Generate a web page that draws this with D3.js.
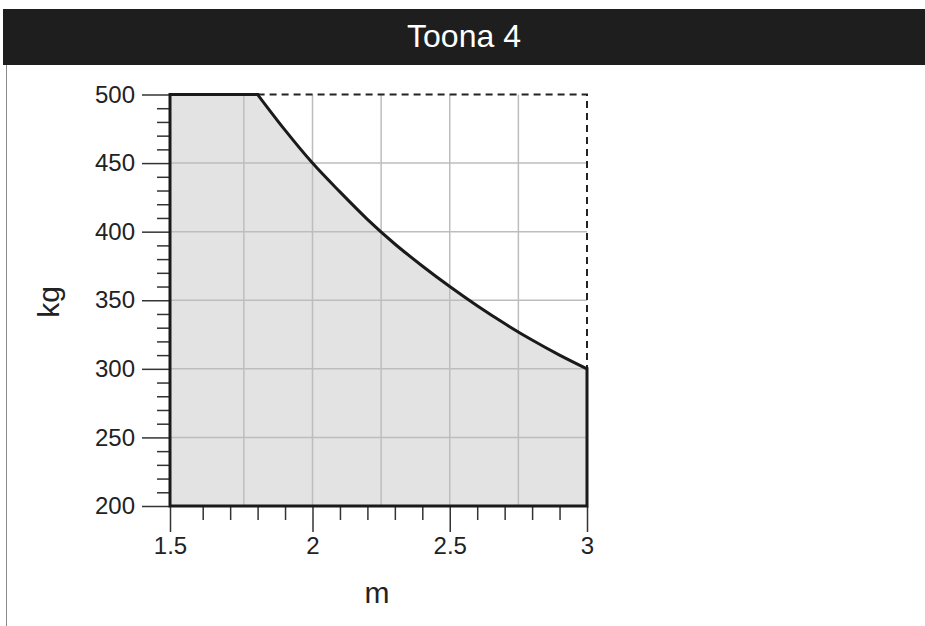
<!DOCTYPE html>
<html>
<head>
<meta charset="utf-8">
<script src="https://cdn.jsdelivr.net/npm/d3@7"></script>
<style>
  body { margin: 0; background: #fff; }
  svg { display: block; font-family: "Liberation Sans", Arial, sans-serif; }
</style>
</head>
<body>
<svg id="chart" width="925" height="626"></svg>
<script>
// ---- data ----
var title = "Toona 4";
var xLabel = "m";
var yLabel = "kg";

// flat part of the limit (max load)
var capLengths = [1.5, 1.8];
var capLoads = [500, 500];

// load limit curve
var curveLengths = [1.8, 1.9, 2.0, 2.1, 2.2, 2.3, 2.4, 2.5, 2.6, 2.7, 2.8, 2.9, 3.0];
var curveLoads = [500, 474, 450, 429, 409, 391, 375, 360, 346, 333, 321, 310, 300];

var xMajorTicks = [1.5, 2, 2.5, 3];
var xMinorTicks = [1.6, 1.7, 1.8, 1.9, 2.1, 2.2, 2.3, 2.4, 2.6, 2.7, 2.8, 2.9];
var yMajorTicks = [200, 250, 300, 350, 400, 450, 500];
var yMinorTicks = [210, 220, 230, 240, 260, 270, 280, 290, 310, 320, 330, 340,
                   360, 370, 380, 390, 410, 420, 430, 440, 460, 470, 480, 490];
var xGrid = [1.75, 2, 2.25, 2.5, 2.75];
var yGrid = [250, 300, 350, 400, 450];

var svg = d3.select("#chart");

// header bar
svg.append("rect")
	.attr("x", 3).attr("y", 9)
	.attr("width", 922).attr("height", 56)
	.attr("fill", "#1e1e1e");

svg.append("text")
	.attr("x", 464).attr("y", 47)
	.attr("text-anchor", "middle")
	.attr("fill", "#fff")
	.attr("font-size", 32)
	.text(title);

// thin frame line on the left
svg.append("line")
	.attr("x1", 6.5).attr("x2", 6.5)
	.attr("y1", 65).attr("y2", 626)
	.attr("stroke", "#8a8a8a").attr("stroke-width", 1);

// the original's first 0.1 m step is a bit wider than the rest
var x = d3.scaleLinear().domain([1.5, 1.6, 3]).range([170, 202.7, 587]);
var y = d3.scaleLinear().domain([200, 500]).range([506, 94.5]);

var cap = capLengths.map(function(d, i) { return [d, capLoads[i]]; });
var pts = curveLengths.map(function(d, i) { return [d, curveLoads[i]]; });

var lineLin = d3.line()
	.x(function(d) { return x(d[0]); })
	.y(function(d) { return y(d[1]); });
var lineCurve = d3.line()
	.x(function(d) { return x(d[0]); })
	.y(function(d) { return y(d[1]); })
	.curve(d3.curveMonotoneX);

// filled region as one path (no seam between flat part and curve)
var fillPath = lineLin([[1.5, 200]].concat(cap))
	+ lineCurve(pts).replace(/^M/, "L")
	+ "L" + x(3) + "," + y(200) + "Z";

svg.append("path")
	.attr("d", fillPath)
	.attr("fill", "#e3e3e3");

// grid
svg.append("g").selectAll("line")
	.data(xGrid).enter().append("line")
	.attr("x1", function(d) { return x(d); })
	.attr("x2", function(d) { return x(d); })
	.attr("y1", y(200)).attr("y2", y(500))
	.attr("stroke", "#bdbdbd").attr("stroke-width", 1.5);

svg.append("g").selectAll("line")
	.data(yGrid).enter().append("line")
	.attr("x1", x(1.5)).attr("x2", x(3))
	.attr("y1", function(d) { return y(d); })
	.attr("y2", function(d) { return y(d); })
	.attr("stroke", "#bdbdbd").attr("stroke-width", 1.5);

// axes
function styleAxis(g) {
	g.select(".domain").remove();
	g.selectAll("line").attr("stroke", "#333").attr("stroke-width", 1.5);
	g.selectAll("text").attr("fill", "#222").attr("font-size", 24)
		.attr("font-family", "Liberation Sans, Arial, sans-serif");
}

svg.append("g")
	.attr("transform", "translate(" + x(1.5) + ",0)")
	.call(d3.axisLeft(y).tickValues(yMinorTicks).tickSize(13).tickFormat(""))
	.call(styleAxis);

svg.append("g")
	.attr("transform", "translate(" + x(1.5) + ",0)")
	.call(d3.axisLeft(y).tickValues(yMajorTicks).tickSize(28).tickPadding(7).tickFormat(d3.format("d")))
	.call(styleAxis);

svg.append("g")
	.attr("transform", "translate(0," + y(200) + ")")
	.call(d3.axisBottom(x).tickValues(xMinorTicks).tickSize(14).tickFormat(""))
	.call(styleAxis);

svg.append("g")
	.attr("transform", "translate(0," + y(200) + ")")
	.call(d3.axisBottom(x).tickValues(xMajorTicks).tickSize(26).tickPadding(5).tickFormat(d3.format("")))
	.call(styleAxis);

// dashed outer limit
svg.append("path")
	.datum([[1.8, 500], [3, 500], [3, 300]])
	.attr("d", lineLin)
	.attr("fill", "none")
	.attr("stroke", "#222")
	.attr("stroke-width", 2)
	.attr("stroke-dasharray", "7,5");

// outline of the allowed region
svg.append("path")
	.datum([[3, 300], [3, 200], [1.5, 200]].concat(cap))
	.attr("d", lineLin)
	.attr("fill", "none")
	.attr("stroke", "#1a1a1a")
	.attr("stroke-width", 3)
	.attr("stroke-linejoin", "miter")
	.attr("stroke-linecap", "square");

svg.append("path")
	.datum(pts)
	.attr("d", lineCurve)
	.attr("fill", "none")
	.attr("stroke", "#1a1a1a")
	.attr("stroke-width", 3);

// axis titles
svg.append("text")
	.attr("transform", "translate(59,302) rotate(-90)")
	.attr("text-anchor", "middle")
	.attr("fill", "#222")
	.attr("font-size", 30)
	.text(yLabel);

svg.append("text")
	.attr("x", 377).attr("y", 603)
	.attr("text-anchor", "middle")
	.attr("fill", "#222")
	.attr("font-size", 30)
	.text(xLabel);
</script>
</body>
</html>
